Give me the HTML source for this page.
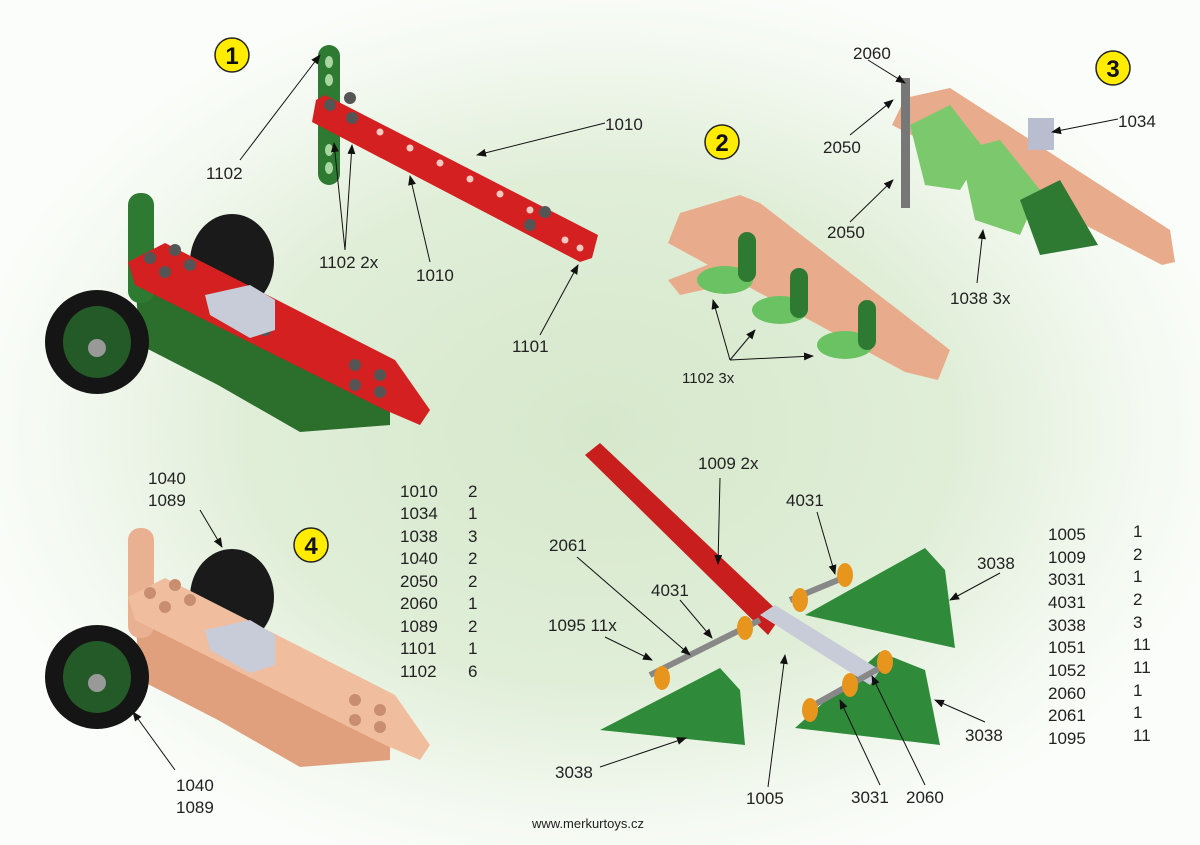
<!DOCTYPE html>
<html><head><meta charset="utf-8"><style>
html,body{margin:0;padding:0}
body{width:1200px;height:845px;overflow:hidden;background:radial-gradient(ellipse 640px 460px at 600px 430px,#d6e8cc 0%,#e0eed8 55%,#f4f9f1 85%,#fbfdfa 100%);font-family:"Liberation Sans",sans-serif}
svg{position:absolute;left:0;top:0}
text{font-family:"Liberation Sans",sans-serif;font-size:17px;fill:#222}
.n{font-size:24px;font-weight:bold;fill:#111}
</style></head><body>
<svg width="1200" height="845" viewBox="0 0 1200 845">
<defs>
<marker id="a" markerWidth="10" markerHeight="8" refX="9" refY="4" orient="auto"><path d="M0,0L10,4L0,8z" fill="#111"/></marker>
</defs>
<!-- model 1 top -->
<rect x="318" y="45" width="22" height="140" rx="11" fill="#2e7a33"/>
<g fill="#a8d8a0"><ellipse cx="329" cy="62" rx="4" ry="6"/><ellipse cx="329" cy="80" rx="4" ry="6"/><ellipse cx="329" cy="150" rx="4" ry="6"/><ellipse cx="329" cy="168" rx="4" ry="6"/></g>
<polygon points="325,95 598,235 592,258 580,262 312,122 316,100" fill="#d42020"/>
<g fill="#f6c8c0"><circle cx="380" cy="132" r="3.5"/><circle cx="410" cy="148" r="3.5"/><circle cx="440" cy="163" r="3.5"/><circle cx="470" cy="179" r="3.5"/><circle cx="500" cy="194" r="3.5"/><circle cx="530" cy="210" r="3.5"/><circle cx="565" cy="240" r="3.5"/><circle cx="580" cy="248" r="3.5"/></g>
<g fill="#555"><circle cx="330" cy="105" r="6"/><circle cx="350" cy="98" r="6"/><circle cx="352" cy="118" r="6"/><circle cx="545" cy="212" r="6"/><circle cx="530" cy="225" r="6"/></g>
<!-- model 1 bottom & model 4 -->
<g id="m1">
<polygon points="135,280 150,275 390,400 390,425 300,432 218,385 140,345" fill="#2c6e2c"/>
<rect x="128" y="193" width="26" height="110" rx="12" fill="#2e7a33"/>
<ellipse cx="232" cy="262" rx="42" ry="48" fill="#1a1a1a"/>
<polygon points="128,262 165,243 395,360 430,410 420,425 385,410 135,285" fill="#d42020"/>
<g fill="#555"><circle cx="150" cy="258" r="6"/><circle cx="175" cy="250" r="6"/><circle cx="165" cy="272" r="6"/><circle cx="190" cy="265" r="6"/><circle cx="355" cy="365" r="6"/><circle cx="380" cy="375" r="6"/><circle cx="355" cy="385" r="6"/><circle cx="380" cy="392" r="6"/><circle cx="265" cy="330" r="6"/></g>
<ellipse cx="97" cy="342" rx="52" ry="52" fill="#151515"/><ellipse cx="97" cy="342" rx="34" ry="36" fill="#245a28"/><circle cx="97" cy="348" r="9" fill="#999"/>
<polygon points="205,295 250,285 275,300 275,330 250,338 210,315" fill="#c8ccd8"/>
</g>
<g transform="translate(0,335)">
<polygon points="135,280 150,275 390,400 390,425 300,432 218,385 140,345" fill="#e0a07e"/>
<rect x="128" y="193" width="26" height="110" rx="12" fill="#eab092"/>
<ellipse cx="232" cy="262" rx="42" ry="48" fill="#1a1a1a"/>
<polygon points="128,262 165,243 395,360 430,410 420,425 385,410 135,285" fill="#f0bd9f"/>
<g fill="#c98e70"><circle cx="150" cy="258" r="6"/><circle cx="175" cy="250" r="6"/><circle cx="165" cy="272" r="6"/><circle cx="190" cy="265" r="6"/><circle cx="355" cy="365" r="6"/><circle cx="380" cy="375" r="6"/><circle cx="355" cy="385" r="6"/><circle cx="380" cy="392" r="6"/></g>
<ellipse cx="97" cy="342" rx="52" ry="52" fill="#151515"/><ellipse cx="97" cy="342" rx="34" ry="36" fill="#245a28"/><circle cx="97" cy="348" r="9" fill="#999"/>
<polygon points="205,295 250,285 275,300 275,330 250,338 210,315" fill="#c8ccd8"/>
</g>
<!-- model 2 -->
<polygon points="680,213 740,195 760,203 950,350 938,380 905,372 668,243" fill="#e8ac8c"/>
<polygon points="668,280 715,262 725,285 680,295" fill="#e8ac8c"/>
<ellipse cx="725" cy="280" rx="28" ry="14" fill="#6ac262"/><ellipse cx="780" cy="310" rx="28" ry="14" fill="#6ac262"/><ellipse cx="845" cy="345" rx="28" ry="14" fill="#6ac262"/>
<rect x="738" y="232" width="18" height="50" rx="9" fill="#2f7a33"/><rect x="790" y="268" width="18" height="50" rx="9" fill="#2f7a33"/><rect x="858" y="300" width="18" height="50" rx="9" fill="#2f7a33"/>
<!-- model 3 -->
<polygon points="905,98 950,88 1170,230 1175,262 1162,265 892,125" fill="#e8ac8c"/>
<polygon points="910,125 950,105 985,150 960,190 925,185" fill="#7cc86c"/>
<polygon points="960,150 1000,140 1040,190 1020,235 975,220" fill="#7cc86c"/>
<polygon points="1020,200 1060,180 1098,245 1040,255" fill="#2f7a33"/>
<rect x="1028" y="118" width="26" height="32" fill="#b8bdd0"/>
<rect x="901" y="78" width="9" height="130" fill="#777"/>
<!-- model 5 -->
<polygon points="585,455 600,443 782,615 768,635" fill="#c81e1e"/>
<polygon points="600,730 720,668 740,690 745,745" fill="#2f8a3a"/>
<polygon points="795,728 880,652 925,670 940,745" fill="#2f8a3a"/>
<polygon points="805,615 925,548 945,570 955,648" fill="#2f8a3a"/>
<polygon points="760,615 775,605 880,670 870,685" fill="#c8ccd8"/>
<line x1="650" y1="675" x2="760" y2="620" stroke="#888" stroke-width="6"/>
<line x1="790" y1="600" x2="850" y2="575" stroke="#888" stroke-width="6"/>
<line x1="805" y1="710" x2="885" y2="665" stroke="#888" stroke-width="6"/>
<g fill="#e8951e"><ellipse cx="662" cy="678" rx="8" ry="12"/><ellipse cx="745" cy="628" rx="8" ry="12"/><ellipse cx="800" cy="600" rx="8" ry="12"/><ellipse cx="845" cy="575" rx="8" ry="12"/><ellipse cx="810" cy="710" rx="8" ry="12"/><ellipse cx="850" cy="685" rx="8" ry="12"/><ellipse cx="885" cy="662" rx="8" ry="12"/></g>
<g stroke="#111" stroke-width="1" fill="none" marker-end="url(#a)">
<line x1="240" y1="160" x2="320" y2="55"/>
<line x1="605" y1="123" x2="477" y2="155"/>
<line x1="345" y1="250" x2="334" y2="143"/><line x1="345" y1="250" x2="352" y2="145"/>
<line x1="430" y1="262" x2="410" y2="176"/>
<line x1="540" y1="335" x2="578" y2="265"/>
<line x1="868" y1="60" x2="905" y2="83"/>
<line x1="850" y1="135" x2="893" y2="100"/>
<line x1="850" y1="222" x2="893" y2="180"/>
<line x1="1118" y1="119" x2="1052" y2="132"/>
<line x1="977" y1="283" x2="983" y2="230"/>
<line x1="730" y1="360" x2="713" y2="300"/><line x1="730" y1="360" x2="755" y2="330"/><line x1="730" y1="360" x2="813" y2="356"/>
<line x1="200" y1="510" x2="222" y2="547"/>
<line x1="175" y1="770" x2="133" y2="712"/>
<line x1="720" y1="478" x2="718" y2="564"/>
<line x1="817" y1="512" x2="835" y2="574"/>
<line x1="577" y1="557" x2="690" y2="655"/>
<line x1="680" y1="600" x2="712" y2="638"/>
<line x1="605" y1="637" x2="652" y2="660"/>
<line x1="1000" y1="573" x2="950" y2="600"/>
<line x1="985" y1="722" x2="935" y2="700"/>
<line x1="600" y1="767" x2="686" y2="738"/>
<line x1="768" y1="787" x2="785" y2="655"/>
<line x1="880" y1="785" x2="840" y2="700"/>
<line x1="925" y1="785" x2="872" y2="676"/>
</g>
<g fill="#ffec00" stroke="#222" stroke-width="1.5"><circle cx="232" cy="55" r="17"/><circle cx="722" cy="142" r="17"/><circle cx="1113" cy="68" r="17"/><circle cx="311" cy="545" r="17"/></g>
<text class="n" x="232" y="64" text-anchor="middle">1</text><text class="n" x="722" y="151" text-anchor="middle">2</text><text class="n" x="1113" y="77" text-anchor="middle">3</text><text class="n" x="311" y="554" text-anchor="middle">4</text>
<g>
<text x="206" y="179">1102</text><text x="605" y="130">1010</text><text x="319" y="268">1102 2x</text><text x="416" y="281">1010</text><text x="512" y="352">1101</text>
<text x="853" y="59">2060</text><text x="823" y="153">2050</text><text x="827" y="238">2050</text><text x="1118" y="127">1034</text><text x="950" y="304">1038 3x</text>
<text x="682" y="383" style="font-size:15px">1102 3x</text>
<text x="148" y="484">1040</text><text x="148" y="506">1089</text><text x="176" y="791">1040</text><text x="176" y="813">1089</text>
<text x="698" y="469">1009 2x</text><text x="786" y="506">4031</text><text x="549" y="551">2061</text><text x="651" y="596">4031</text><text x="548" y="631">1095 11x</text>
<text x="977" y="569">3038</text><text x="965" y="741">3038</text><text x="555" y="778">3038</text><text x="746" y="804">1005</text><text x="851" y="803">3031</text><text x="906" y="803">2060</text>
</g>
<g><text x="400" y="497">1010</text><text x="400" y="519">1034</text><text x="400" y="542">1038</text><text x="400" y="564">1040</text><text x="400" y="587">2050</text><text x="400" y="609">2060</text><text x="400" y="632">1089</text><text x="400" y="654">1101</text><text x="400" y="677">1102</text></g>
<g><text x="468" y="497">2</text><text x="468" y="519">1</text><text x="468" y="542">3</text><text x="468" y="564">2</text><text x="468" y="587">2</text><text x="468" y="609">1</text><text x="468" y="632">2</text><text x="468" y="654">1</text><text x="468" y="677">6</text></g>
<g><text x="1048" y="540">1005</text><text x="1048" y="563">1009</text><text x="1048" y="585">3031</text><text x="1048" y="608">4031</text><text x="1048" y="631">3038</text><text x="1048" y="653">1051</text><text x="1048" y="676">1052</text><text x="1048" y="699">2060</text><text x="1048" y="721">2061</text><text x="1048" y="744">1095</text></g>
<g><text x="1133" y="537">1</text><text x="1133" y="560">2</text><text x="1133" y="582">1</text><text x="1133" y="605">2</text><text x="1133" y="628">3</text><text x="1133" y="650">11</text><text x="1133" y="673">11</text><text x="1133" y="696">1</text><text x="1133" y="718">1</text><text x="1133" y="741">11</text></g>
<text x="532" y="828" style="font-size:13px">www.merkurtoys.cz</text>
</svg>
</body></html>
